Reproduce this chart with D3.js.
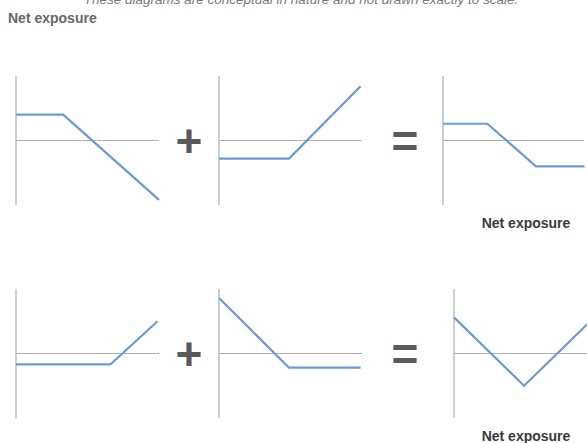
<!DOCTYPE html>
<html>
<head>
<meta charset="utf-8">
<script src="https://cdn.jsdelivr.net/npm/d3@7"></script>
<style>
    body { margin: 0; background: #fff; }
    text { font-family: "Liberation Sans", Arial, sans-serif; }
</style>
</head>
<body>
<div id="chart"></div>
<script>
// conceptual payoff shapes, x in [0,10], y in [-5,5]
var longCall = [[0, 2.0], [3.3, 2.0], [10, -4.6]];
var buyOption = [[0, -1.4], [4.9, -1.4], [9.9, 4.2]];
var netTop = [[0, 1.3], [3.1, 1.3], [6.5, -2.0], [9.9, -2.0]];
var callLeg = [[0, -0.85], [6.6, -0.85], [9.9, 2.5]];
var putLeg = [[0, 4.3], [4.9, -1.1], [9.9, -1.1]];
var netBottom = [[0, 2.8], [4.9, -2.5], [10, 3.0]];

var titleText = "These diagrams are conceptual in nature and not drawn exactly to scale.";
var headText = "Net exposure";
var netLabel = "Net exposure";

var width = 587, height = 443;
var svg = d3.select("#chart").append("svg")
    .attr("width", width)
    .attr("height", height);

// panel boxes: left edge of y axis, top of y axis
var panels = [
    { data: longCall, left: 16, top: 76 },
    { data: buyOption, left: 219, top: 76 },
    { data: netTop, left: 443, top: 76, label: true, axisW: 141 },
    { data: callLeg, left: 16, top: 289 },
    { data: putLeg, left: 219, top: 289 },
    { data: netBottom, left: 454, top: 289, label: true }
];

var pw = 143, ph = 129;

panels.forEach(function(p) {
    var x = d3.scaleLinear().domain([0, 10]).range([p.left, p.left + pw]);
    var y = d3.scaleLinear().domain([-5, 5]).range([p.top + ph, p.top]);
    var g = svg.append("g");

    g.append("line")
        .attr("x1", x(0)).attr("x2", p.axisW ? p.left + p.axisW : x(10))
        .attr("y1", y(0)).attr("y2", y(0))
        .attr("stroke", "#b0b0b0").attr("stroke-width", 1.2);
    g.append("line")
        .attr("x1", x(0)).attr("x2", x(0))
        .attr("y1", y(5)).attr("y2", y(-5))
        .attr("stroke", "#b0b0b0").attr("stroke-width", 1.2);

    var line = d3.line()
        .x(function(d) { return x(d[0]); })
        .y(function(d) { return y(d[1]); });

    g.append("path")
        .datum(p.data)
        .attr("d", line)
        .attr("fill", "none")
        .attr("stroke", "#6a9bd3")
        .attr("stroke-width", 2.2);

    if (p.label) {
        g.append("text")
            .attr("x", 526)
            .attr("y", p.top + ph + 23)
            .attr("text-anchor", "middle")
            .attr("font-size", 14)
            .attr("font-weight", "bold")
            .attr("fill", "#3a3a3a")
            .text(netLabel);
    }
});

// operators between the panels
var ops = [
    { s: "+", x: 189, y: 141 },
    { s: "=", x: 405, y: 141 },
    { s: "+", x: 189, y: 354 },
    { s: "=", x: 405, y: 354 }
];
svg.selectAll(".op")
    .data(ops)
    .enter().append("text")
    .attr("class", "op")
    .attr("x", function(d) { return d.x; })
    .attr("y", function(d) { return d.y; })
    .attr("dy", "0.35em")
    .attr("text-anchor", "middle")
    .attr("font-size", 46)
    .attr("font-weight", "bold")
    .attr("fill", "#5a5a5a")
    .text(function(d) { return d.s; });

svg.append("text")
    .attr("x", 301)
    .attr("y", 4)
    .attr("text-anchor", "middle")
    .attr("font-size", 13.5)
    .attr("font-style", "italic")
    .attr("fill", "#7a7a7a")
    .text(titleText);

svg.append("text")
    .attr("x", 8)
    .attr("y", 23)
    .attr("font-size", 14)
    .attr("font-weight", "bold")
    .attr("fill", "#686868")
    .text(headText);
</script>
</body>
</html>
